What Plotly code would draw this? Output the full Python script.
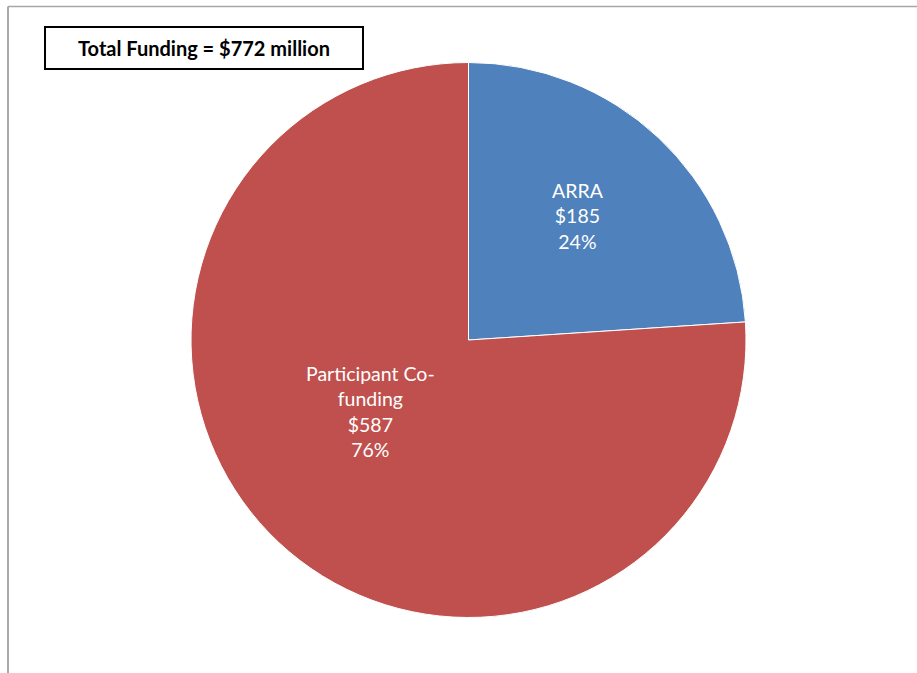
import plotly.graph_objects as go

W, H = 917, 673

# Funding breakdown ($ million)
categories = ["ARRA", "Participant Co-<br>funding"]
amounts = [185, 587]
colors = ["#4F81BD", "#C0504D"]
total_label = "Total Funding = $772 million"

# Pie placement in pixels (center and radius)
cx, cy, r = 468.5, 340, 277.5
# Label anchor points in pixels
label_pos = [(578, 216.5), (370, 411)]

LABEL_FONT = "Lato, Carlito, sans-serif"

fig = go.Figure(
    go.Pie(
        labels=categories,
        values=amounts,
        sort=False,
        direction="clockwise",
        rotation=0,
        marker=dict(colors=colors, line=dict(color="white", width=1)),
        textinfo="none",
        hoverinfo="label+value+percent",
        domain=dict(
            x=[(cx - r) / W, (cx + r) / W],
            y=[1 - (cy + r) / H, 1 - (cy - r) / H],
        ),
        showlegend=False,
    )
)

def px(x):
    return x / W

def py(y):
    return 1 - y / H

shapes = [
    # chart frame (top and left edges)
    dict(type="line", xref="paper", yref="paper", x0=px(8), y0=py(673), x1=px(8), y1=py(6.5),
         line=dict(color="#8c8c8c", width=1.5)),
    dict(type="line", xref="paper", yref="paper", x0=px(8), y0=py(6.5), x1=px(917), y1=py(6.5),
         line=dict(color="#a6a6a6", width=1.5)),
    # total box
    dict(type="rect", xref="paper", yref="paper", x0=px(45), y0=py(69), x1=px(363), y1=py(27),
         line=dict(color="black", width=2), fillcolor="white"),
]

total = sum(amounts)
annotations = [
    dict(text="<b>" + total_label + "</b>", xref="paper", yref="paper",
         x=px(204), y=py(48), showarrow=False, xanchor="center", yanchor="middle",
         font=dict(family=LABEL_FONT, size=20, color="black"))
]
for name, val, (lx, ly) in zip(categories, amounts, label_pos):
    pct = round(val / total * 100)
    annotations.append(
        dict(text=f"{name}<br>${val}<br>{pct}%", xref="paper", yref="paper",
             x=px(lx), y=py(ly), showarrow=False, xanchor="center", yanchor="middle",
             align="center", font=dict(family=LABEL_FONT, size=19.5, color="white"))
    )

fig.update_layout(
    width=W,
    height=H,
    margin=dict(l=0, r=0, t=0, b=0),
    paper_bgcolor="white",
    plot_bgcolor="white",
    shapes=shapes,
    annotations=annotations,
)

fig.write_html("out.html")
